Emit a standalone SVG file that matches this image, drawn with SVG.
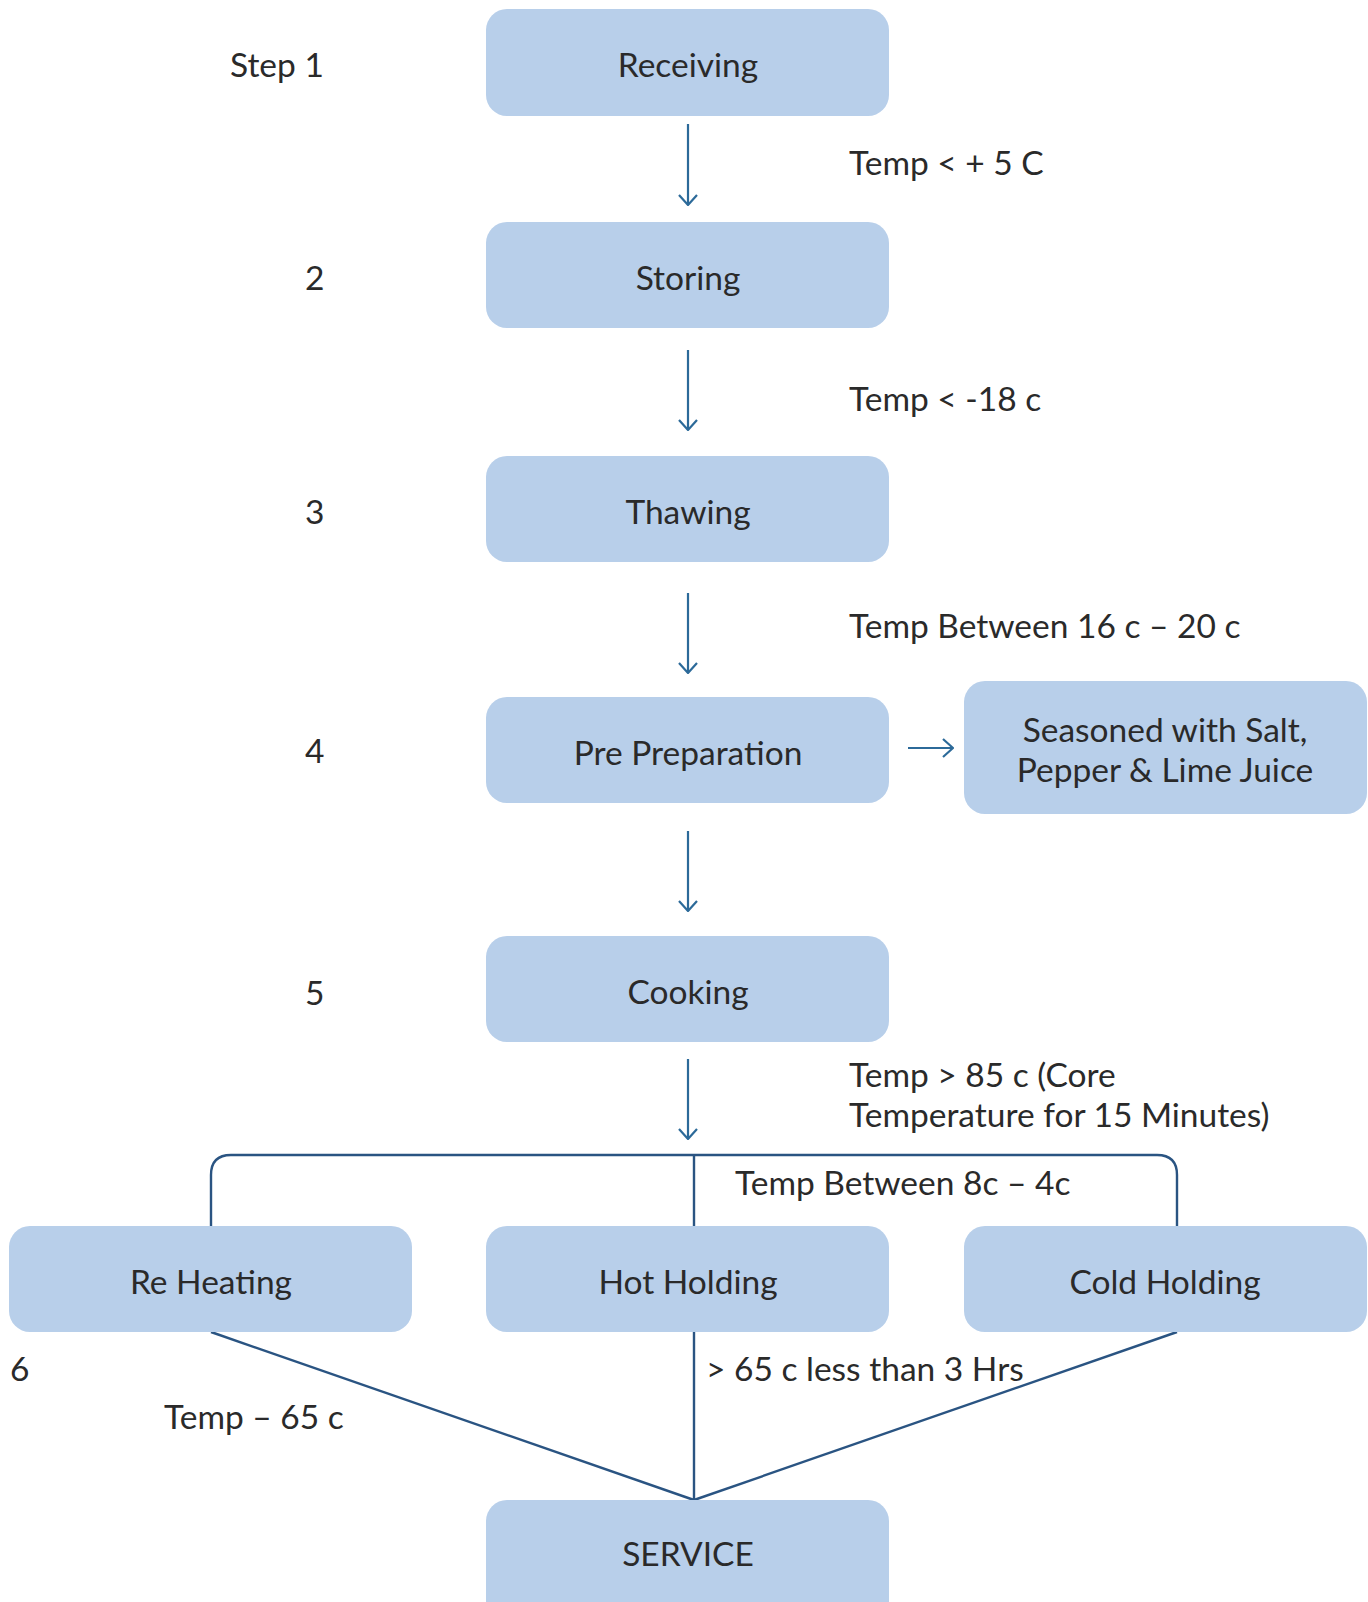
<svg xmlns="http://www.w3.org/2000/svg" width="1368" height="1602" viewBox="0 0 1368 1602">
  <style>
    .box { fill: #b8cfea; }
    .t { font-family: Lato, "Open Sans", "Liberation Sans", sans-serif; font-size: 33.5px; fill: #2a2a2a; }
    .c { text-anchor: middle; }
    .flow { stroke: #2c6a99; stroke-width: 2.2; fill: none; }
    .link { stroke: #2a5482; stroke-width: 2.4; fill: none; }
  </style>
  <defs>
    <marker id="head" viewBox="0 0 12 20" refX="11" refY="10" markerWidth="12" markerHeight="20" markerUnits="userSpaceOnUse" orient="auto">
      <path d="M1,1 L11,10 L1,19" fill="none" stroke="#2c6a99" stroke-width="2.2"/>
    </marker>
  </defs>

  <!-- step numbers and temperature notes -->
  <g id="labels">
    <text class="t" x="230" y="77">Step 1</text>
    <text class="t" x="305" y="290">2</text>
    <text class="t" x="305" y="524">3</text>
    <text class="t" x="305" y="763">4</text>
    <text class="t" x="305" y="1005">5</text>
    <text class="t" x="10" y="1381">6</text>
    <text class="t" x="849" y="175">Temp &lt; + 5 C</text>
    <text class="t" x="849" y="411">Temp &lt; -18 c</text>
    <text class="t" x="849" y="638">Temp Between 16 c – 20 c</text>
    <text class="t" x="849" y="1087">Temp &gt; 85 c (Core</text>
    <text class="t" x="849" y="1127">Temperature for 15 Minutes)</text>
    <text class="t" x="735" y="1195">Temp Between 8c – 4c</text>
    <text class="t" x="706" y="1381">&gt; 65 c less than 3 Hrs</text>
    <text class="t" x="164" y="1429">Temp – 65 c</text>
  </g>

  <!-- connectors -->
  <g id="connectors">
    <line class="flow" x1="688" y1="124" x2="688" y2="205" marker-end="url(#head)"/>
    <line class="flow" x1="688" y1="350" x2="688" y2="430" marker-end="url(#head)"/>
    <line class="flow" x1="688" y1="593" x2="688" y2="673" marker-end="url(#head)"/>
    <line class="flow" x1="688" y1="831" x2="688" y2="911" marker-end="url(#head)"/>
    <line class="flow" x1="688" y1="1059" x2="688" y2="1139" marker-end="url(#head)"/>
    <line class="flow" x1="908" y1="748" x2="953" y2="748" marker-end="url(#head)"/>
    <path class="link" d="M211,1226 V1175 Q211,1155 231,1155 H1157 Q1177,1155 1177,1175 V1226"/>
    <line class="link" x1="694" y1="1155" x2="694" y2="1226"/>
    <line class="link" x1="211" y1="1332" x2="694" y2="1500"/>
    <line class="link" x1="694" y1="1332" x2="694" y2="1500"/>
    <line class="link" x1="1177" y1="1332" x2="694" y2="1500"/>
  </g>

  <g id="receiving">
    <rect class="box" x="486" y="9" width="403" height="107" rx="21"/>
    <text class="t c" x="688" y="77">Receiving</text>
  </g>
  <g id="storing">
    <rect class="box" x="486" y="222" width="403" height="106" rx="21"/>
    <text class="t c" x="688" y="290">Storing</text>
  </g>
  <g id="thawing">
    <rect class="box" x="486" y="456" width="403" height="106" rx="21"/>
    <text class="t c" x="688" y="524">Thawing</text>
  </g>
  <g id="pre-preparation">
    <rect class="box" x="486" y="697" width="403" height="106" rx="21"/>
    <text class="t c" x="688" y="765">Pre Preparation</text>
  </g>
  <g id="seasoning">
    <rect class="box" x="964" y="681" width="403" height="133" rx="21"/>
    <text class="t c" x="1165" y="742">Seasoned with Salt,</text>
    <text class="t c" x="1165" y="782">Pepper &amp; Lime Juice</text>
  </g>
  <g id="cooking">
    <rect class="box" x="486" y="936" width="403" height="106" rx="21"/>
    <text class="t c" x="688" y="1004">Cooking</text>
  </g>
  <g id="re-heating">
    <rect class="box" x="9" y="1226" width="403" height="106" rx="21"/>
    <text class="t c" x="211" y="1294">Re Heating</text>
  </g>
  <g id="hot-holding">
    <rect class="box" x="486" y="1226" width="403" height="106" rx="21"/>
    <text class="t c" x="688" y="1294">Hot Holding</text>
  </g>
  <g id="cold-holding">
    <rect class="box" x="964" y="1226" width="403" height="106" rx="21"/>
    <text class="t c" x="1165" y="1294">Cold Holding</text>
  </g>
  <g id="service">
    <rect class="box" x="486" y="1500" width="403" height="130" rx="21"/>
    <text class="t c" x="688" y="1566">SERVICE</text>
  </g>
</svg>
